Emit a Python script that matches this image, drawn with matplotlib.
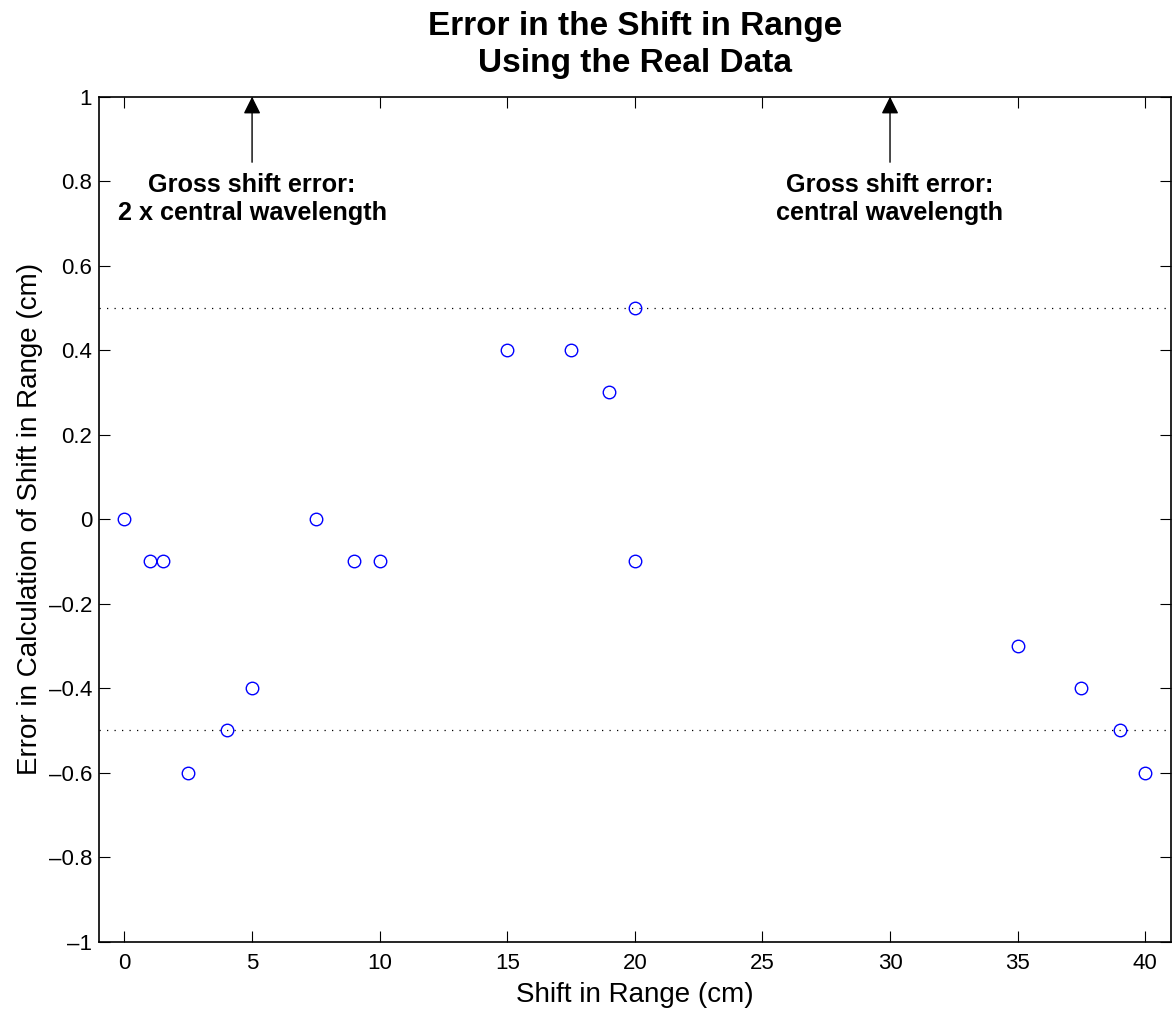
import matplotlib
matplotlib.use('Agg')
import matplotlib.pyplot as plt

plt.rcParams['font.family'] = ['Liberation Sans', 'DejaVu Sans']

shift = [0, 1, 1.5, 2.5, 4, 5, 7.5, 9, 10, 15, 17.5, 19, 20, 20, 35, 37.5, 39, 40]
error = [0, -0.1, -0.1, -0.6, -0.5, -0.4, 0, -0.1, -0.1, 0.4, 0.4, 0.3, 0.5, -0.1,
         -0.3, -0.4, -0.5, -0.6]
limits = [0.5, -0.5]
arrow_x = [5, 30]
arrow_text = ['Gross shift error:\n2 x central wavelength',
              'Gross shift error:\ncentral wavelength']
xticks = list(range(0, 45, 5))
yticks = [-1, -0.8, -0.6, -0.4, -0.2, 0, 0.2, 0.4, 0.6, 0.8, 1]


def fmt(v):
    if v in (-1, 0, 1):
        s = str(int(v))
    else:
        s = f'{v:.1f}'
    return s.replace('-', '\u2013')


fig = plt.figure(figsize=(11.74, 10.15), dpi=100)
ax = fig.add_axes([0.0843, 0.0722, 0.9129, 0.8325])

for lim in limits:
    ax.axhline(lim, color='black', linestyle=(0, (1, 5)), linewidth=0.9)

ax.plot(shift, error, 'o', mfc='none', mec='blue', markersize=9, mew=1)

for xa, txt in zip(arrow_x, arrow_text):
    ax.annotate('', xy=(xa, 1.0), xytext=(xa, 0.845),
                arrowprops=dict(arrowstyle='-|>', color='black', lw=1,
                                mutation_scale=26, shrinkA=0, shrinkB=0))
    ax.text(xa, 0.82, txt, ha='center', va='top', fontsize=18.2,
            fontweight='bold', linespacing=1.22)

ax.set_xlim(-1, 41)
ax.set_ylim(-1, 1)
ax.set_xticks(xticks)
ax.set_yticks(yticks)
ax.set_yticklabels([fmt(v) for v in yticks])
ax.tick_params(direction='in', top=True, right=True, labelsize=16, length=8,
               width=0.8)
ax.tick_params(axis='x', pad=8)
ax.tick_params(axis='y', pad=5)
for s in ax.spines.values():
    s.set_linewidth(1.2)

ax.set_xlabel('Shift in Range (cm)', fontsize=20, labelpad=6)
ax.set_ylabel('Error in Calculation of Shift in Range (cm)', fontsize=20, labelpad=4)
ax.set_title('Error in the Shift in Range\nUsing the Real Data', fontsize=24,
             fontweight='bold', pad=18, linespacing=1.22)

fig.savefig('out.png', dpi=100)
